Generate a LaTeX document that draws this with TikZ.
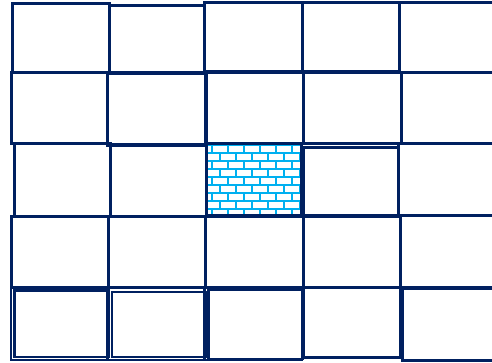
\documentclass[tikz,border=0pt]{standalone}
\usepackage{tikz}
\definecolor{navy}{HTML}{002060}
\definecolor{brickblue}{HTML}{00B0F0}
\tikzset{
  cell/.style={draw=navy, line width=3pt},
  thincell/.style={draw=navy, line width=2.2pt},
  brickline/.style={draw=brickblue, line width=2pt}
}
\begin{document}
\begin{tikzpicture}[x=1pt,y=-1pt]
\useasboundingbox[fill=white] (0,0) rectangle (492,362);
% brick pattern in the centre cell
\begin{scope}
  \clip (206,143.5) rectangle (301,216);
  \foreach \k in {0,...,9}{
    \pgfmathsetmacro{\ya}{144.7+8*\k}
    \pgfmathsetmacro{\yb}{\ya+8}
    \pgfmathsetmacro{\xo}{mod(\k,2)==0 ? 196 : 204}
    \draw[brickline] (200,\ya) -- (310,\ya);
    \foreach \j in {0,...,7}{
      \draw[brickline] ({\xo+16*\j},\ya) -- ({\xo+16*\j},\yb);
    }
  }
\end{scope}
% row 1
\draw[cell] (12,3) rectangle (109.5,72);
\draw[cell] (109.5,5) rectangle (204.5,72.5);
\draw[cell] (204.5,2.5) rectangle (302,71.5);
\draw[cell] (302,2) rectangle (399.5,71);
\draw[cell] (399.5,2) rectangle (500,72);
% row 2
\draw[cell] (11.5,72) rectangle (107.5,143);
\draw[cell] (107.5,73) rectangle (206,145);
\draw[cell] (205.5,72) rectangle (303,143);
\draw[cell] (303,72.5) rectangle (401,143);
\draw[cell] (401,72) rectangle (500,143.5);
% row 3
\draw[cell] (14,143) rectangle (110,216);
\draw[cell] (110,144.5) rectangle (206,216.5);
\draw[cell] (206,143) rectangle (301,215.5);
\draw[cell] (303,147.5) rectangle (398,215);
\draw[cell] (398.5,143.5) rectangle (500,215);
% row 4
\draw[cell] (11.5,216) rectangle (108,287);
\draw[cell] (108,216.5) rectangle (205.5,287);
\draw[cell] (205.5,216.5) rectangle (303,287);
\draw[cell] (303.5,216) rectangle (400,287);
\draw[cell] (400,215) rectangle (500,287);
% row 5 (double outlines)
\draw[thincell] (11,287.5) rectangle (107,360);
\draw[thincell] (14.5,290.5) rectangle (109,357);
\draw[thincell] (108,288) rectangle (204,360);
\draw[thincell] (112,292) rectangle (207,357);
\draw[thincell] (205,287) rectangle (302,360);
\draw[thincell] (208.5,290) rectangle (302.5,359);
\draw[cell] (303.5,287) rectangle (400,357.5);
\draw[cell] (402,288.3) rectangle (500,360);
\end{tikzpicture}
\end{document}
